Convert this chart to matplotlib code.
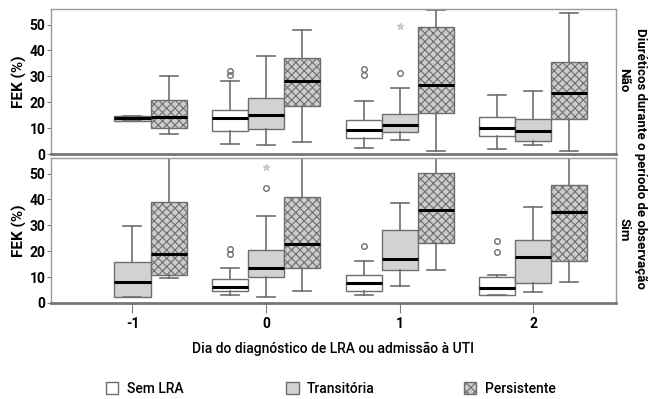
import matplotlib
matplotlib.use("Agg")
import matplotlib.pyplot as plt
from matplotlib.patches import Patch

plt.rcParams['font.family'] = ['Roboto', 'DejaVu Sans']
plt.rcParams['hatch.color'] = '#505050'
plt.rcParams['hatch.linewidth'] = 0.8

days = [-1, 0, 1, 2]
groups = ["Sem LRA", "Transitória", "Persistente"]
panels = ["Não", "Sim"]

# box stats per day: (whislo, q1, med, q3, whishi); None = no data that day
nao_sem = [None, (3.9, 9.0, 13.9, 17.0, 28.3), (2.3, 6.2, 9.3, 13.2, 20.6), (1.9, 6.8, 10.0, 14.4, 22.9)]
nao_trans = [(12.8, 12.8, 13.8, 14.6, 14.6), (3.6, 9.6, 15.0, 21.5, 37.7), (5.5, 8.6, 11.2, 15.4, 25.3), (3.5, 5.1, 8.7, 13.5, 24.4)]
nao_pers = [(7.9, 10.0, 14.4, 20.9, 30.2), (4.5, 18.4, 28.3, 36.9, 47.9), (1.0, 15.8, 26.8, 48.9, 55.7), (1.3, 13.5, 23.4, 35.4, 54.4)]

sim_sem = [None, (2.9, 4.5, 6.2, 9.3, 13.5), (3.2, 4.5, 7.6, 10.7, 16.3), (2.9, 3.2, 5.8, 9.9, 10.9)]
sim_trans = [(2.3, 2.5, 8.0, 15.8, 29.7), (2.3, 9.9, 13.7, 20.6, 33.7), (6.7, 12.6, 17.1, 28.3, 38.6), (4.2, 7.7, 17.6, 24.4, 37.1)]
sim_pers = [(9.6, 10.8, 18.9, 39.2, 57.0), (4.5, 13.7, 22.8, 40.9, 57.0), (12.6, 23.2, 35.8, 50.4, 57.0), (8.3, 16.1, 35.1, 45.7, 57.0)]

# outliers (circles) and extremes (asterisks)
nao_sem_out = [[], [30.6, 31.9], [30.6, 32.8], []]
nao_trans_out = [[], [], [31.3], []]
nao_trans_ext = [[], [], [49.5], []]
sim_sem_out = [[], [19.0, 21.0], [21.9], [19.7, 23.8]]
sim_trans_out = [[], [44.6], [], []]
sim_trans_ext = [[], [52.5], [], []]

colors = ['white', '#d2d2d2', '#cccccc']
hatches = [None, None, 'xxxx']
offsets = [-0.27, 0.0, 0.27]
width = 0.27

fig = plt.figure(figsize=(6.5, 3.99), dpi=100)
ax_top = fig.add_axes([51/650, 1-154/399, 565/650, 145/399])
ax_bot = fig.add_axes([51/650, 1-303/399, 565/650, 145/399])

panel_data = [
    (ax_top, [nao_sem, nao_trans, nao_pers], [nao_sem_out, nao_trans_out, None], nao_trans_ext),
    (ax_bot, [sim_sem, sim_trans, sim_pers], [sim_sem_out, sim_trans_out, None], sim_trans_ext),
]

for ax, series, outs, ext in panel_data:
    for g, stats_list in enumerate(series):
        stats, pos = [], []
        for d, s in zip(days, stats_list):
            if s is None:
                continue
            lo, q1, med, q3, hi = s
            stats.append(dict(whislo=lo, q1=q1, med=med, q3=q3, whishi=hi, fliers=[]))
            pos.append(d + offsets[g])
        ax.bxp(stats, positions=pos, widths=width, patch_artist=True, showfliers=False,
               boxprops=dict(facecolor=colors[g], edgecolor='#6e6e6e', linewidth=1.0, hatch=hatches[g]),
               medianprops=dict(color='black', linewidth=2.2),
               whiskerprops=dict(color='#6e6e6e', linewidth=1.2),
               capprops=dict(color='#6e6e6e', linewidth=1.2),
               capwidths=width * 0.5, manage_ticks=False)
        if outs[g] is not None:
            for d, vals in zip(days, outs[g]):
                if vals:
                    ax.plot([d + offsets[g]] * len(vals), vals, 'o', mfc='none', mec='#6e6e6e',
                            ms=4, mew=1.0)
    for d, vals in zip(days, ext):
        if vals:
            ax.plot([d + offsets[1]] * len(vals), vals, '*', color='#c8c8c8', ms=5)

    ax.set_xlim(-1.61, 2.62)
    ax.set_ylim(0, 56)
    ax.set_yticks([0, 10, 20, 30, 40, 50])
    ax.tick_params(axis='y', length=3, color='#808080', pad=1, labelsize=10)
    for lab in ax.get_yticklabels():
        lab.set_fontweight('bold')
    for side in ['top', 'left', 'right']:
        ax.spines[side].set_color('#999999')
        ax.spines[side].set_linewidth(1.0)
    ax.spines['bottom'].set_color('#777777')
    ax.spines['bottom'].set_linewidth(2.0)
    ax.set_ylabel('FEK (%)', fontsize=11, fontweight='bold', labelpad=2)

ax_top.set_xticks([])
ax_bot.set_xticks(days)
ax_bot.set_xticklabels([str(d) for d in days], fontsize=10, fontweight='bold')
ax_bot.tick_params(axis='x', length=7, color='#808080', pad=3)
ax_bot.set_xlabel('Dia do diagnóstico de LRA ou admissão à UTI', fontsize=10, fontweight='medium', labelpad=8)

fig.text(624/650, 1-80/399, panels[0], rotation=-90, ha='center', va='center', fontsize=9.5, fontweight='bold')
fig.text(624/650, 1-230/399, panels[1], rotation=-90, ha='center', va='center', fontsize=9.5, fontweight='bold')
fig.text(641/650, 1-158/399, 'Diuréticos durante o período de observação', rotation=-90,
         ha='center', va='center', fontsize=9.5, fontweight='bold')

legend_x = [106, 286, 464]
for g in range(3):
    h = Patch(facecolor=colors[g], edgecolor='#6e6e6e', hatch=hatches[g], label=groups[g])
    leg = fig.legend(handles=[h], loc='center left', bbox_to_anchor=(legend_x[g]/650, 1-389/399),
                     frameon=False, borderpad=0, borderaxespad=0, handlelength=0.9, handleheight=0.9,
                     handletextpad=0.6, fontsize=10)
    for t in leg.get_texts():
        t.set_fontweight('medium')

fig.savefig('out.png', dpi=100, facecolor='white')
